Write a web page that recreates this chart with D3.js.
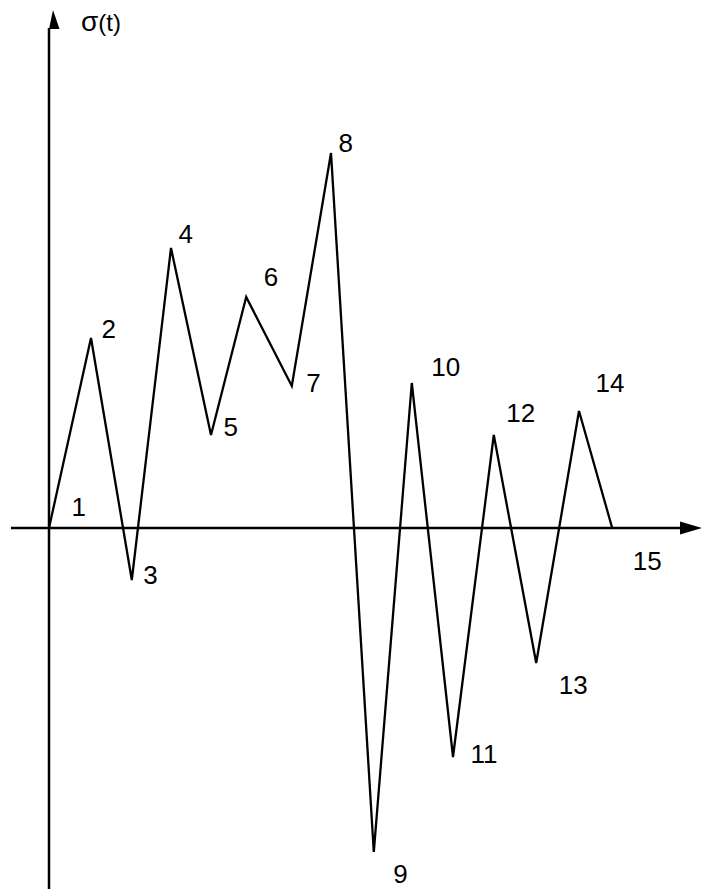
<!DOCTYPE html>
<html>
<head>
<meta charset="utf-8">
<script src="https://cdn.jsdelivr.net/npm/d3@7"></script>
<style>
  body { margin: 0; background: #fff; }
  text { font-family: "Liberation Sans", Arial, sans-serif; fill: #000; }
</style>
</head>
<body>
<div id="chart"></div>
<script>
// stress history: reversal points 1..15
const pointLabels = ["1","2","3","4","5","6","7","8","9","10","11","12","13","14","15"];
const timeValues  = [0, 1.05, 2.07, 3.05, 4.05, 4.93, 6.07, 7.05, 8.12, 9.07, 10.1, 11.12, 12.18, 13.25, 14.08];
const sigmaValues = [0, 9.5, -2.6, 14, 4.65, 11.55, 7.1, 18.75, -16.2, 7.25, -11.45, 4.65, -6.75, 5.85, 0];

// label offsets from each point (layout only)
const labelOffsets = [[24,-12],[12,0],[13,4],[9,-5],[14,1],[19,-11],[16,6],[9,-1],
                      [21,31],[21,-7],[19,6],[14,-13],[24,31],[18,-19],[22,42]];

const width = 714, height = 889;

let svg = d3.select("#chart").append("svg")
    .attr("width", width)
    .attr("height", height);

// scales: 40px per time unit, 20px per stress unit
let x = d3.scaleLinear().domain([0, 15]).range([49, 649]);
let y = d3.scaleLinear().domain([0, 20]).range([528, 128]);

let data = pointLabels.map((l, i) => ({label: l, t: timeValues[i], s: sigmaValues[i]}));

// x axis with arrow
svg.append("line")
    .attr("x1", 11).attr("x2", 682)
    .attr("y1", y(0)).attr("y2", y(0))
    .attr("stroke", "#000").attr("stroke-width", 2.5);
svg.append("path")
    .attr("d", `M680,${y(0) - 6.5}L702,${y(0)}L680,${y(0) + 6.5}Z`)
    .attr("fill", "#000");

// y axis with arrow
svg.append("line")
    .attr("x1", x(0)).attr("x2", x(0))
    .attr("y1", 889).attr("y2", 28)
    .attr("stroke", "#000").attr("stroke-width", 2.5);
svg.append("path")
    .attr("d", `M${x(0)},29L${x(0) + 10.5},29L${x(0) + 4},10Z`)
    .attr("fill", "#000");

// axis title
let title = svg.append("text")
    .attr("x", 81).attr("y", 31);
title.append("tspan")
    .style("font-size", "28px")
    .text("σ");
title.append("tspan")
    .style("font-size", "24px")
    .text("(t)");

// the load history line
let line = d3.line()
    .x(d => x(d.t))
    .y(d => y(d.s));

svg.append("path")
    .datum(data)
    .attr("d", line)
    .attr("fill", "none")
    .attr("stroke", "#000")
    .attr("stroke-width", 2.3)
    .attr("stroke-linejoin", "miter");

// point numbers
svg.selectAll(".pt-label")
    .data(data)
    .enter().append("text")
    .attr("class", "pt-label")
    .attr("x", (d, i) => x(d.t) + labelOffsets[i][0] - 1.5)
    .attr("y", (d, i) => y(d.s) + labelOffsets[i][1])
    .style("font-size", "26px")
    .text(d => d.label);
</script>
</body>
</html>
